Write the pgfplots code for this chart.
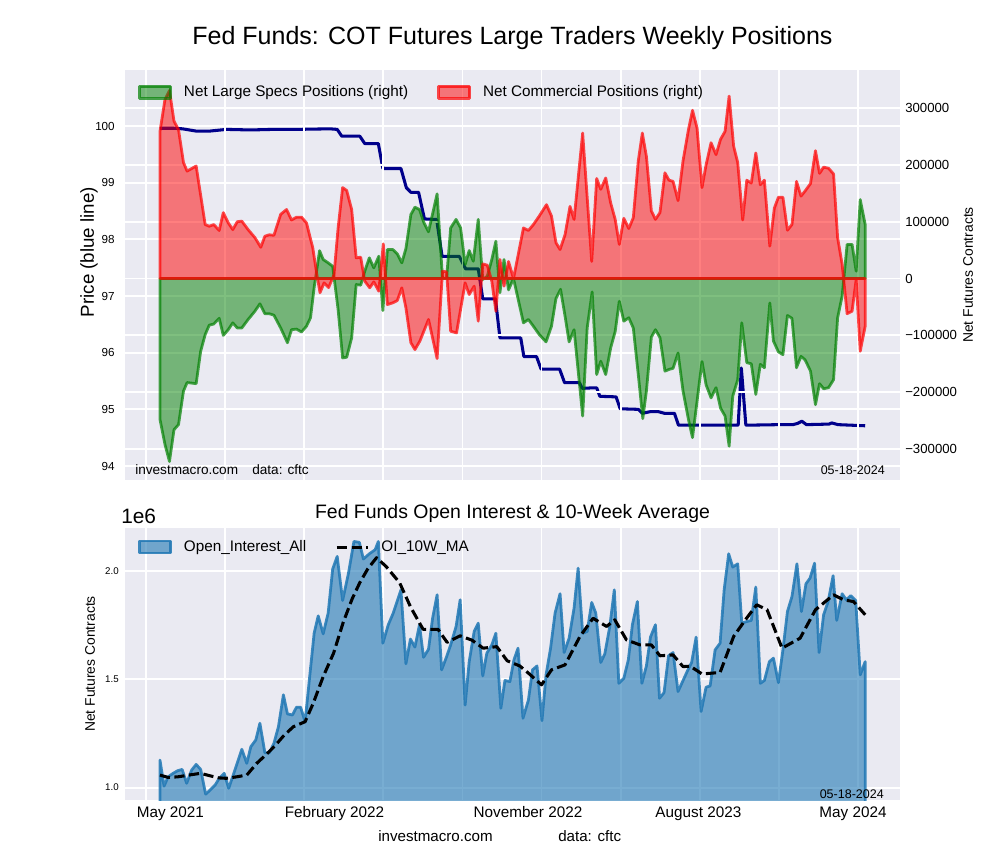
\documentclass[border=0pt]{standalone}
\usepackage{fontspec}
\setmainfont{Liberation Sans}
\usepackage{pgfplots}
\usepackage{pgfplotstable}
\pgfplotsset{compat=1.18}

\definecolor{bg}{HTML}{EAEAF2}
\definecolor{price}{HTML}{00008B}
\definecolor{spec}{HTML}{008000}
\definecolor{comm}{HTML}{FF0000}
\definecolor{oi}{HTML}{1F77B4}
\newcommand\fs[1]{\fontsize{#1}{#1}\selectfont}

% week index 0 = 05-18-2021, 156 = 05-14-2024
\pgfplotstableread{
w v
0 99.96
3 99.96
5 99.95
8 99.91
11 99.91
14.7 99.94
20 99.93
25 99.94
30 99.94
37.6 99.95
39.2 99.94
40.2 99.82
44.2 99.82
45.3 99.69
48.3 99.69
49.3 99.25
53.3 99.25
54.5 98.91
55.5 98.83
57.2 98.83
58.5 98.36
61.2 98.35
62.4 97.70
66.2 97.70
67.6 97.48
70.4 97.48
71.4 96.95
74.2 96.95
75.2 96.26
79.8 96.26
80.5 95.93
83.3 95.93
84.3 95.71
88.4 95.71
89.5 95.47
92.8 95.47
93.4 95.37
95.8 95.38
96.6 95.38
97.3 95.23
100.9 95.22
101.8 95.01
105.8 95.00
106.7 94.93
108.5 94.96
110.2 94.96
111.6 94.93
113.8 94.93
114.7 94.72
127.9 94.72
128.6 95.73
129.6 94.72
137 94.73
140 94.73
141 94.75
142 94.79
143 94.73
148 94.74
148.6 94.76
150 94.73
156 94.71
}\pricetab

\pgfplotstableread{
w v
0 -248000
1.1 -292000
2.1 -322000
3.1 -266000
4.1 -257000
5.2 -198000
6.0 -183000
8.0 -185000
9.0 -128000
10.0 -98600
10.9 -82000
11.9 -80000
13.1 -70000
14.0 -100000
15.1 -90000
16.1 -78000
17.1 -87000
18.1 -87000
19.5 -72000
21.0 -57500
22.1 -44500
23.2 -62000
24.2 -62000
25.2 -64500
26.7 -87000
28.2 -113000
29.1 -90000
30.2 -89000
31.3 -94000
32.4 -84000
33.3 -69000
34.1 -16000
35.3 49000
36.1 33500
37.2 27600
38.2 21600
39.4 -54600
40.4 -139700
41.3 -138500
42.4 -104500
43.4 -10600
44.4 -11700
45.3 12900
46.3 36400
47.3 18800
48.4 39300
49.3 -56300
50.3 51000
51.5 51000
52.5 43400
53.5 27600
54.4 52800
55.5 112700
56.4 125600
57.4 121500
58.4 98000
59.4 82200
61.3 149000
62.5 0
63.4 1000
64.3 89200
65.5 104000
66.5 89200
67.5 24600
68.4 49300
69.3 30500
70.4 104000
71.4 -1800
72.4 4100
73.4 33500
74.3 65700
75.2 -25000
76.1 33500
77.1 -20000
78.2 0
80.4 -78000
81.5 -72000
82.6 -84000
83.9 -98600
85.4 -111500
86.6 -84000
87.6 -35000
88.6 -19000
89.6 -66000
90.5 -111500
91.6 -90000
93.5 -242000
94.5 -87000
95.6 -23500
96.6 -169000
97.5 -145500
98.6 -169000
99.7 -122000
100.7 -93000
101.6 -40000
102.6 -75000
103.7 -69000
104.7 -87000
105.8 -169000
106.8 -246500
107.6 -198000
108.7 -103000
109.6 -90000
110.6 -104000
111.7 -163000
112.6 -160000
113.5 -158000
114.6 -131000
115.7 -198000
116.9 -248000
117.8 -280000
119.9 -146000
120.8 -187000
121.9 -210000
123.0 -192000
124.0 -228000
125.0 -242000
125.9 -295000
126.7 -207000
127.8 -178000
128.7 -78000
129.8 -148000
130.8 -150000
131.8 -204000
132.8 -151000
133.7 -157000
134.9 -43000
135.7 -110000
136.8 -129000
137.8 -134000
138.8 -65000
139.8 -70000
140.8 -157000
141.8 -137000
142.7 -143000
143.9 -163000
145.0 -222000
145.9 -185000
146.8 -194000
147.9 -192000
149.0 -178000
149.9 -69000
150.9 -31000
152.0 60000
153.1 60000
154.0 13000
154.9 139000
156.0 95000
}\spectab

\pgfplotstableread{
w v
0 259000
1.1 315000
2.1 331000
3.1 277000
4.1 262000
5.2 204000
6.0 189000
8.0 198000
10.0 95000
10.9 92000
11.9 95000
13.1 84500
14.0 116000
15.1 98000
16.1 86000
17.1 100000
18.1 101000
19.5 86000
21.0 72000
22.3 55000
23.2 74500
24.2 77000
25.2 76000
26.7 113000
28.0 121500
29.1 103000
30.2 108000
31.3 108000
32.4 98000
33.8 54000
34.7 7000
35.4 -25000
36.3 -7600
37.3 -16000
38.5 7000
39.4 89000
40.4 160000
41.3 155000
42.4 121500
43.4 36400
44.4 37600
45.3 -4700
46.4 -16400
47.3 -5900
48.4 -22300
49.4 61000
50.3 -45800
51.5 -42800
52.5 -38700
53.5 -16400
54.4 -51600
55.5 -113000
56.4 -125000
57.5 -110000
59.4 -72000
61.3 -140900
62.5 12900
63.4 11700
64.3 -92700
65.6 -95700
67.5 -7600
68.4 -28200
69.5 -13500
70.4 -75000
71.4 25800
72.4 23500
73.4 -4700
74.3 -57500
75.2 33500
76.1 -13500
77.1 30000
78.2 0
80.4 89000
81.5 84500
82.6 95000
83.9 110000
85.5 130000
86.6 110000
87.6 63000
88.5 51000
89.6 77000
90.7 127000
91.6 104000
93.5 256000
95.5 30000
96.6 176000
97.5 157000
98.6 177000
99.7 133000
100.7 104000
101.6 60000
102.6 106000
103.7 88000
104.7 107000
105.8 207000
106.7 256000
107.6 215000
108.7 119000
109.6 104000
110.6 116000
111.7 186000
112.6 173000
113.5 171000
114.6 137000
115.7 207000
116.9 262000
117.8 296000
118.8 265000
119.9 160000
120.8 200000
121.9 239000
123.0 218000
124.0 245000
125.0 259000
125.9 321000
126.9 233000
127.8 204000
128.9 103000
129.8 173000
130.8 168000
131.8 221000
132.8 165000
133.7 173000
134.9 57000
135.9 124000
136.8 143000
137.8 143000
138.8 85000
139.8 95000
140.8 171000
141.8 145000
142.7 154000
143.9 167000
145.0 225000
145.9 185000
146.8 196000
147.9 194000
149.0 184000
149.9 72000
150.9 25000
152.0 -62000
153.1 -57500
154.0 -2000
154.9 -128000
156.0 -84000
}\commtab

\pgfplotstableread{
w v
0 1127000
0.9 1007000
1.8 1050000
2.9 1066000
3.9 1078000
4.9 1084000
5.9 1020000
7.0 1081000
8.0 1107000
9.0 1084000
10.1 970000
11.1 989000
12.2 1012000
13.1 1043000
14.2 1066000
15.2 997000
16.2 1058000
17.2 1120000
18.1 1177000
19.2 1112000
20.1 1189000
21.2 1220000
22.1 1297000
23.2 1161000
24.2 1161000
25.2 1204000
26.2 1281000
27.3 1428000
28.2 1340000
29.3 1335000
30.2 1371000
31.1 1371000
32.1 1304000
33.0 1489000
34.1 1712000
35.0 1792000
36.1 1709000
37.2 1805000
38.2 2008000
39.2 2066000
40.4 1863000
41.7 1989000
42.9 2135000
44.1 2131000
45.0 2054000
46.3 2078000
47.6 2097000
48.3 2135000
49.3 1666000
50.5 1751000
51.6 1805000
53.3 1912000
54.4 1571000
55.4 1685000
56.4 1648000
57.4 1751000
58.3 1601000
59.4 1638000
60.3 1781000
61.3 1889000
62.3 1543000
63.4 1604000
64.3 1658000
65.5 1743000
66.4 1866000
67.5 1381000
68.4 1581000
69.5 1720000
70.4 1758000
71.4 1515000
72.3 1620000
73.4 1658000
74.3 1712000
75.4 1366000
76.3 1494000
77.4 1489000
78.3 1589000
79.2 1643000
80.3 1320000
81.5 1404000
82.4 1543000
83.4 1561000
84.5 1309000
85.4 1520000
86.4 1643000
87.4 1805000
88.5 1894000
89.4 1623000
90.5 1689000
91.6 1828000
92.5 2012000
93.5 1712000
94.5 1720000
95.5 1854000
96.4 1805000
97.5 1577000
98.4 1617000
99.5 1743000
100.5 1912000
101.5 1481000
102.6 1504000
103.6 1589000
104.5 1751000
105.6 1858000
106.6 1481000
107.6 1561000
108.5 1694000
109.6 1751000
110.5 1412000
111.5 1438000
112.5 1608000
113.5 1623000
114.6 1443000
115.6 1489000
116.6 1535000
117.6 1577000
118.6 1694000
119.7 1351000
120.8 1463000
121.7 1469000
122.8 1635000
123.9 1666000
124.8 1912000
125.8 2078000
126.7 2017000
127.8 2032000
128.7 1758000
129.8 1766000
130.8 1771000
131.8 1925000
132.8 1481000
133.7 1494000
134.8 1581000
135.7 1597000
136.8 1484000
137.8 1635000
138.8 1812000
139.8 1881000
140.9 2032000
141.9 1812000
142.9 1940000
143.8 1966000
144.8 2035000
145.8 1623000
146.8 1797000
147.8 1858000
148.9 1977000
149.7 1771000
150.9 1894000
151.8 1866000
152.8 1885000
153.9 1863000
154.9 1520000
156.0 1581000
}\oitab

\pgfplotstableread{
w v
0 1058000
1.8 1047000
4 1050000
7 1060000
9 1066000
11 1055000
13 1045000
14.7 1043000
17 1050000
19.2 1058000
21.4 1112000
23.6 1155000
25.4 1192000
27.3 1238000
29.5 1281000
32.1 1304000
33.9 1389000
36.1 1512000
38.4 1620000
40.5 1760000
42.5 1870000
44.2 1945000
46 2010000
47.9 2060000
50 2020000
53 1945000
55.5 1830000
58.2 1730000
61.5 1730000
63.5 1670000
66.4 1700000
69 1680000
71.5 1643000
74.5 1650000
76.8 1585000
79.6 1561000
81.5 1528000
84.4 1474000
86.6 1543000
89.6 1566000
92.9 1697000
95.8 1781000
98.8 1743000
100.6 1774000
103.2 1681000
106.2 1658000
108.7 1658000
110.6 1608000
113.5 1612000
115.7 1558000
117.3 1560000
119.9 1524000
123.9 1531000
126.9 1697000
129.5 1774000
132 1843000
134.3 1820000
137.6 1643000
141.6 1689000
145 1820000
149 1889000
151.2 1866000
153.4 1858000
156 1797000
}\matab

\pgfplotsset{
  panel/.style={
    scale only axis, width=558pt, anchor=south west,
    xmin=-7.74, xmax=163.7,
    xtick={-3.1,14.4,31.9,49.4,66.9,84.4,101.9,119.4,136.9,154.4},
    xticklabels={},
    axis line style={draw=none}, major tick length=0pt,
    xmajorgrids, ymajorgrids,
    major grid style={white, line width=1.3pt},
    tick label style={font=\fs{9.5}},
    /pgf/number format/assume math mode=true,
    every axis plot/.append style={line join=round},
    legend style={draw=none, fill=none, inner sep=0pt, font=\fs{11},
      legend columns=2, legend cell align=left,
      nodes={inner xsep=0pt},
      /tikz/every odd column/.append style={column sep=8.6pt},
      /tikz/every even column/.append style={column sep=21pt}},
  },
  boxlegend/.style={legend image code/.code={\draw[##1] (0pt,-4.3pt) rectangle (22.3pt,4.3pt);}},
  dashlegend/.style={legend image code/.code={\path (0pt,0pt) -- (22.3pt,0pt); \draw[##1] (0pt,0pt) -- (20pt,0pt);}},
}

\begin{document}
\begin{tikzpicture}
\path[use as bounding box] (0pt,0pt) rectangle (720pt,-619.2pt);

% upper panel, left axis: price
\begin{axis}[panel, at={(90pt,-345.6pt)}, height=295.2pt,
  ymin=93.753, ymax=100.988, ytick={94,95,96,97,98,99,100},
  axis background/.style={fill=bg},
  tick label style={font=\fs{8.4}},
  yticklabel style={inner xsep=0pt, xshift=-7.2pt},
  ylabel={Price (blue line)},
  every axis y label/.style={at={(axis description cs:-0.0465,0.556)}, rotate=90, anchor=center, font=\fs{13.5}},
]
\addplot[price, line width=2.2pt] table[x=w,y=v]{\pricetab};
\end{axis}

% upper panel, right axis: net positions
\begin{axis}[panel, at={(90pt,-345.6pt)}, height=295.2pt,
  ymin=-354500, ymax=366900,
  ytick={-300000,-200000,-100000,0,100000,200000,300000},
  yticklabels={−300000,−200000,−100000,0,100000,200000,300000},
  scaled y ticks=false,
  yticklabel pos=right,
  yticklabel style={inner xsep=0pt, xshift=3.6pt},
  ylabel={Net Futures Contracts},
  every axis y label/.style={at={(axis description cs:1.088,0.5)}, rotate=90, anchor=center, font=\fs{10}},
  legend style={at={(axis description cs:0.0168,0.946)}, anchor=west},
]
\addplot[boxlegend, draw=spec, draw opacity=0.7, fill=spec, fill opacity=0.5, line width=2pt]
  table[x=w,y=v]{\spectab} \closedcycle;
\addlegendentry{Net Large Specs Positions (right)}
\addplot[boxlegend, draw=comm, draw opacity=0.7, fill=comm, fill opacity=0.5, line width=2pt]
  table[x=w,y=v]{\commtab} \closedcycle;
\addlegendentry{Net Commercial Positions (right)}
\end{axis}

% lower panel: open interest
\begin{axis}[panel, at={(90pt,-576pt)}, height=195.84pt,
  ymin=943000, ymax=2197000,
  ytick={1000000,1500000,2000000},
  tick label style={font=\fs{7}},
  scaled y ticks=base 10:-6,
  ytick scale label code/.code={1e6},
  every y tick scale label/.style={at={(rel axis cs:0,1)}, anchor=south west, inner sep=0pt, xshift=1.4pt, yshift=3.2pt, font=\fs{15}},
  /pgf/number format/fixed, /pgf/number format/fixed zerofill, /pgf/number format/precision=1,
  yticklabel style={inner xsep=0pt, xshift=-4.3pt},
  extra x ticks={2.3,38.6,81.4,119.1,153.3},
  extra x tick labels={May 2021,February 2022,November 2022,August 2023,May 2024},
  extra x tick style={grid=none, major tick length=0pt},
  xticklabel style={font=\fs{11}, anchor=north, inner sep=0pt, yshift=-4.7pt},
  axis background/.style={fill=bg},
  ylabel={Net Futures Contracts},
  every axis y label/.style={at={(axis description cs:-0.0452,0.5)}, rotate=90, anchor=center, font=\fs{10}},
  legend style={at={(axis description cs:0.0168,0.93)}, anchor=west},
]
\addplot[boxlegend, draw=oi, draw opacity=0.85, fill=oi, fill opacity=0.6, line width=2pt]
  table[x=w,y=v]{\oitab} |- (axis cs:0,0) -- cycle;
\addlegendentry{Open\_Interest\_All}
\addplot[dashlegend, black, line width=2.2pt, dash pattern=on 7.4pt off 3.2pt]
  table[x=w,y=v]{\matab};
\addlegendentry{OI\_10W\_MA}
\end{axis}

\begin{scope}[x=0.72pt,y=-0.72pt]
\node[font=\fs{18}] at (512.5,38) {Fed Funds: COT Futures Large Traders Weekly Positions};
\node[font=\fs{9.8}, anchor=west, inner sep=0pt] at (135,470) {investmacro.com};
\node[font=\fs{9.8}, anchor=west, inner sep=0pt] at (252,470) {data: cftc};
\node[font=\fs{9}, anchor=east, inner sep=0pt] at (885,470) {05-18-2024};
\node[font=\fs{14}] at (512.5,513) {Fed Funds Open Interest \& 10-Week Average};
\node[font=\fs{9}, anchor=east, inner sep=0pt] at (884,794) {05-18-2024};
\node[font=\fs{10.9}, anchor=west, inner sep=0pt] at (378,836) {investmacro.com};
\node[font=\fs{10.9}, anchor=west, inner sep=0pt] at (558,836) {data: cftc};
\end{scope}
\end{tikzpicture}
\end{document}
